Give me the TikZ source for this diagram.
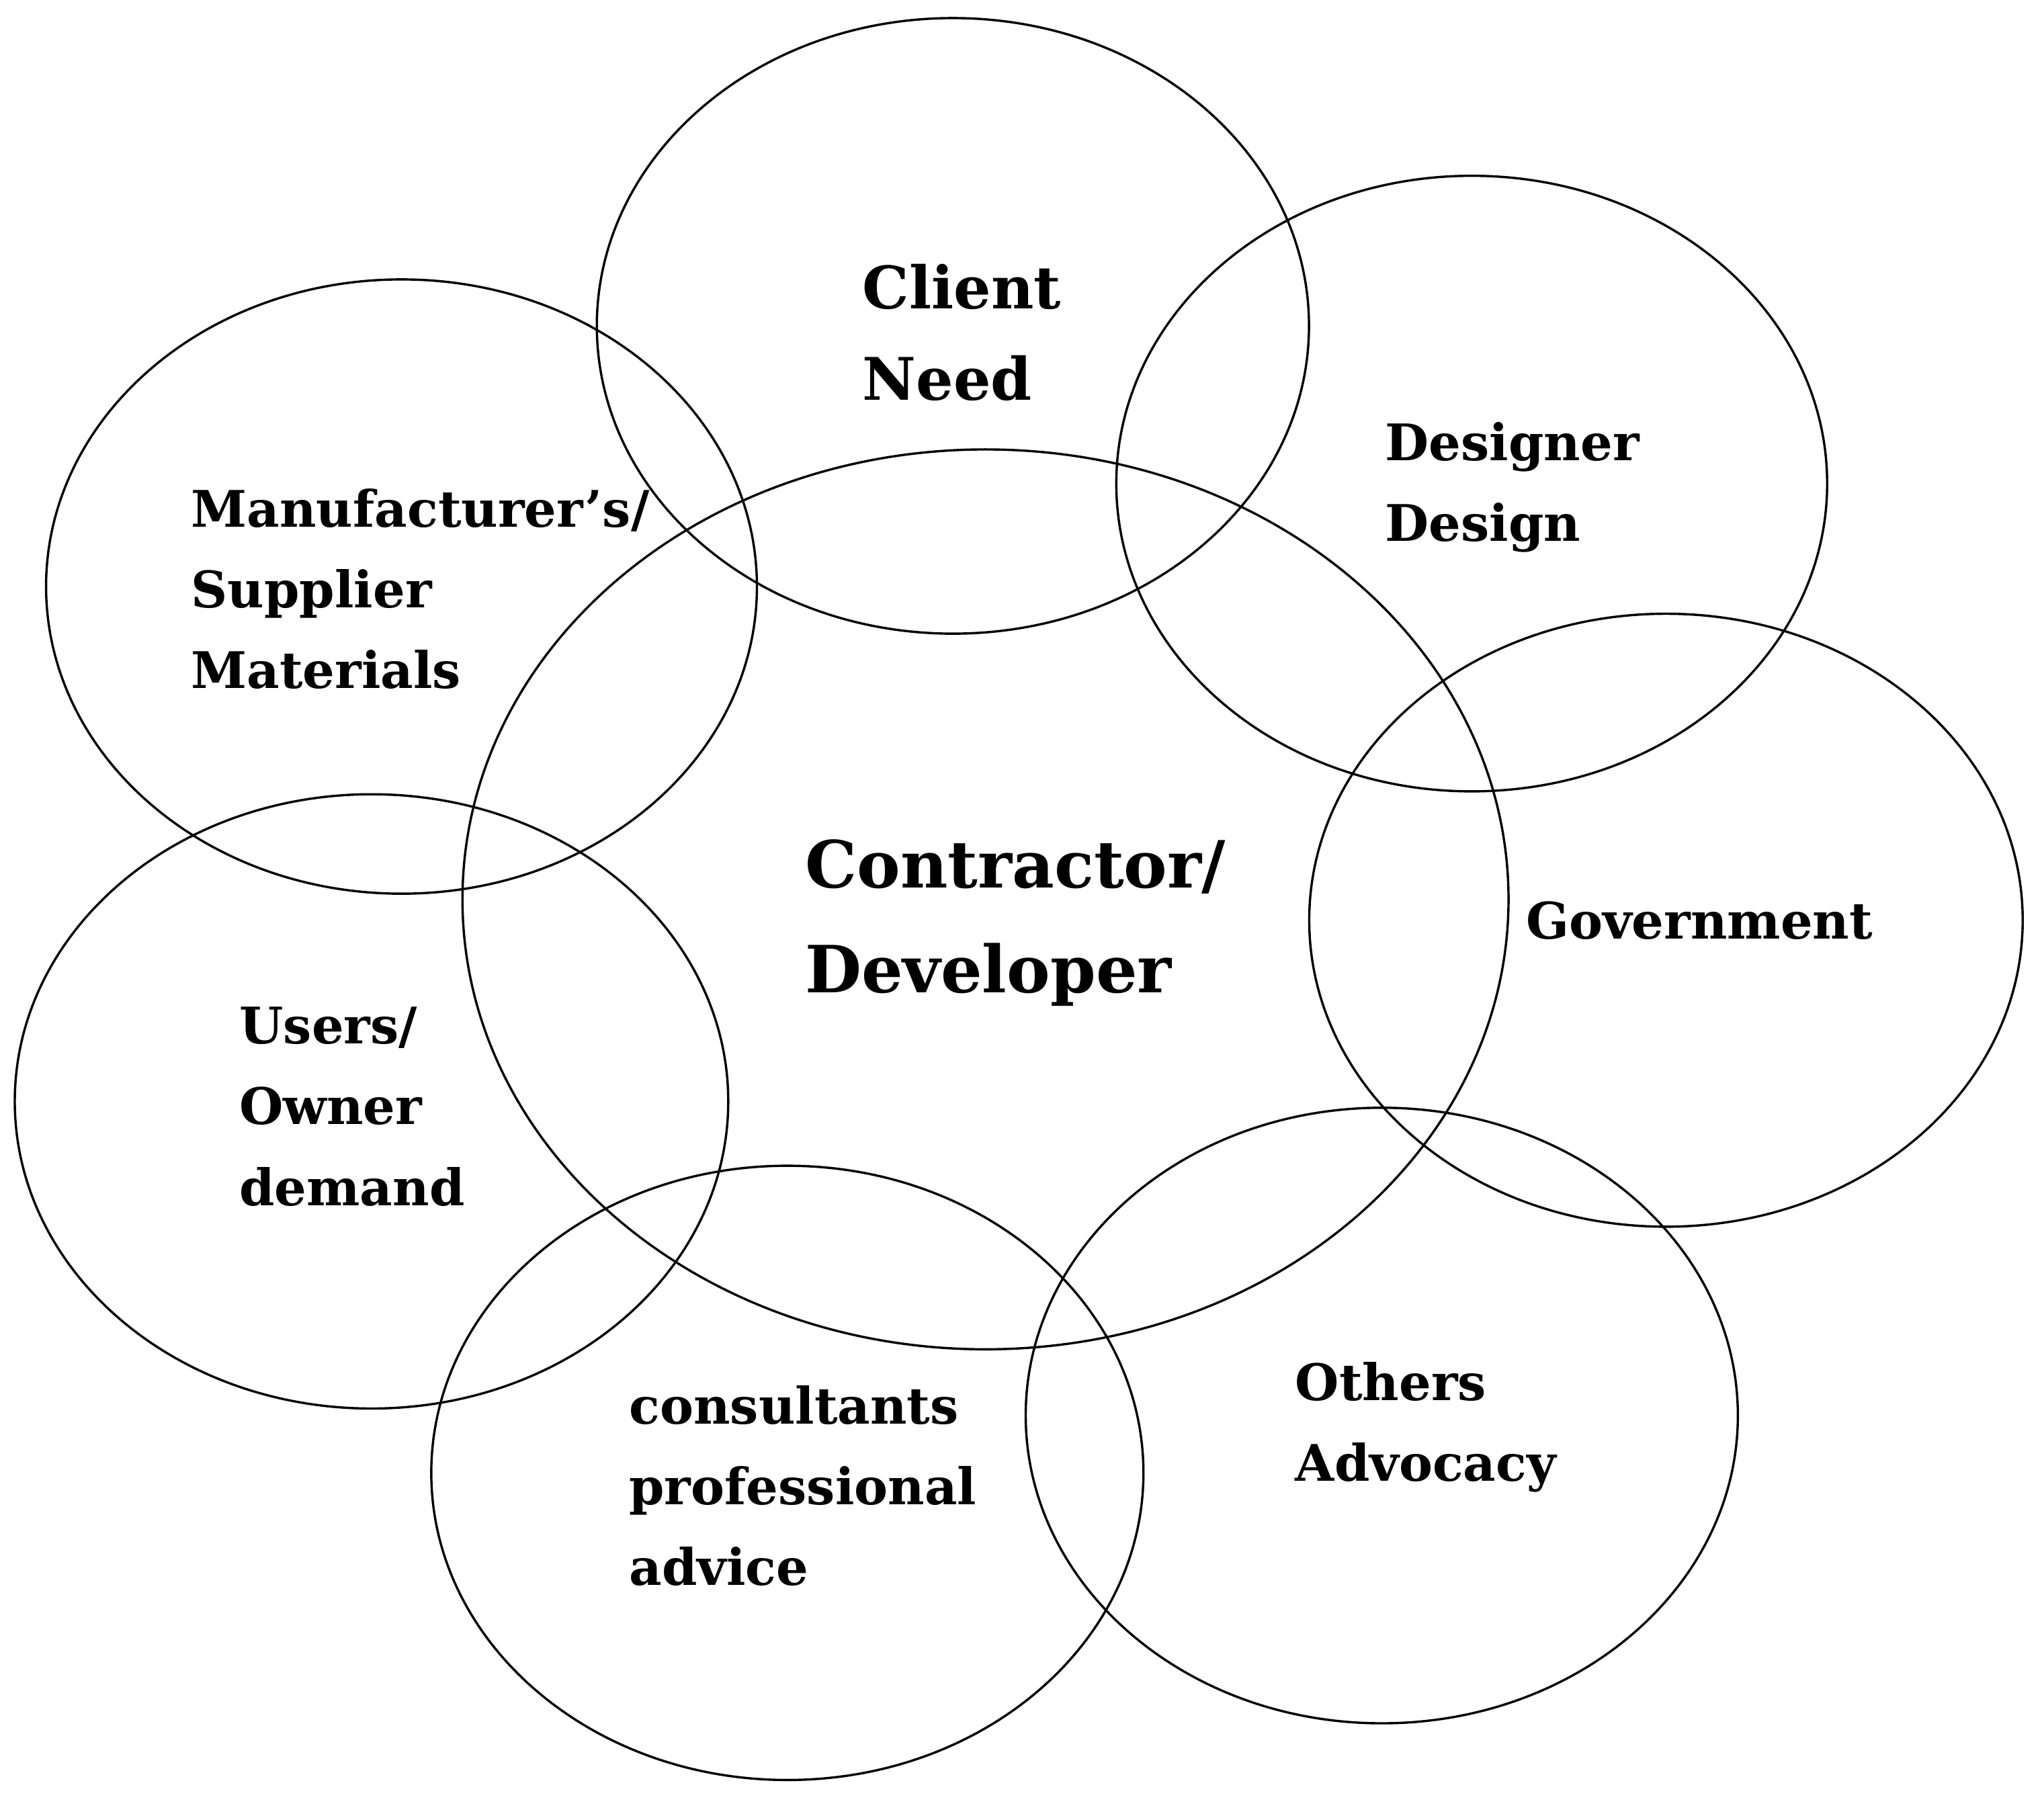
\documentclass[tikz,border=0pt]{standalone}
\usepackage{fontspec}
\setmainfont{DejaVu Serif}
\usetikzlibrary{shapes.geometric}
\begin{document}
\begin{tikzpicture}[x=0.01cm,y=-0.01cm,
  ring/.style={draw, ellipse, inner sep=0pt, line width=0.5pt},
  lbl/.style={anchor=west, align=left, inner sep=0pt, font=\bfseries\fontsize{11}{17.6}\selectfont},
  lblmid/.style={lbl, font=\bfseries\fontsize{12.8}{20}\selectfont},
  lblbig/.style={lbl, font=\bfseries\fontsize{14.2}{22.8}\selectfont}]
\useasboundingbox (0,0) rectangle (1568,1393);
\node[ring, minimum width=5.46cm, minimum height=4.72cm] (client) at (731,250) {};
\node[ring, minimum width=5.45cm, minimum height=4.72cm] (designer) at (1129,371) {};
\node[ring, minimum width=5.45cm, minimum height=4.71cm] (manuf) at (308,450) {};
\node[ring, minimum width=8.02cm, minimum height=6.90cm] (contractor) at (756,690) {};
\node[ring, minimum width=5.47cm, minimum height=4.70cm] (gov) at (1278,706) {};
\node[ring, minimum width=5.47cm, minimum height=4.71cm] (users) at (285,845) {};
\node[ring, minimum width=5.46cm, minimum height=4.71cm] (consult) at (604,1130) {};
\node[ring, minimum width=5.46cm, minimum height=4.72cm] (others) at (1060,1086) {};
\node[lblmid] (tclient) at (661,255) {Client\\Need};
\node[lbl] (tdesigner) at (1062,374) {Designer\\Design};
\node[lbl] (tmanuf) at (146,452) {Manufacturer’s/\\Supplier\\Materials};
\node[lblbig] (tcontractor) at (617,708) {Contractor/\\Developer};
\node[lbl] (tgov) at (1170,706) {Government};
\node[lbl] (tusers) at (183,849) {Users/\\Owner\\demand};
\node[lbl] (tconsult) at (482,1140) {consultants\\professional\\advice};
\node[lbl] (tothers) at (993,1095) {Others\\Advocacy};
\end{tikzpicture}
\end{document}
